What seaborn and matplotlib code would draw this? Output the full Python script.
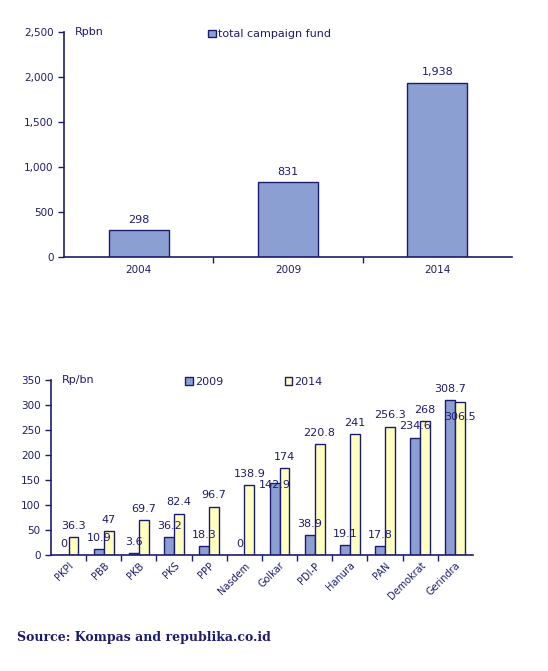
import matplotlib
matplotlib.use("Agg")
import matplotlib.pyplot as plt
import matplotlib.ticker as mticker
import numpy as np
import pandas as pd
import seaborn as sns

# data
years = ["2004", "2009", "2014"]
total_fund = [298, 831, 1938]

parties = ["PKPI", "PBB", "PKB", "PKS", "PPP", "Nasdem", "Golkar",
           "PDI-P", "Hanura", "PAN", "Demokrat", "Gerindra"]
fund_2009 = [0, 10.9, 3.6, 36.2, 18.3, 0, 142.9, 38.9, 19.1, 17.8, 234.6, 308.7]
fund_2014 = [36.3, 47, 69.7, 82.4, 96.7, 138.9, 174, 220.8, 241, 256.3, 268, 306.5]

navy = "#1c1c6e"
blue = "#8c9fd2"
yellow = "#ffffc0"

sns.set_style("ticks")
plt.rcParams["font.family"] = ["DejaVu Sans"]
plt.rcParams["text.color"] = navy
plt.rcParams["axes.edgecolor"] = navy
plt.rcParams["xtick.color"] = navy
plt.rcParams["ytick.color"] = navy

fig = plt.figure(figsize=(5.48, 6.71), dpi=100)

# top chart
ax1 = fig.add_axes([0.117, 0.617, 0.817, 0.335])
sns.barplot(x=years, y=total_fund, color=blue, width=0.4, edgecolor=navy,
            linewidth=1, saturation=1, ax=ax1, label="total campaign fund")
ax1.set_xlim(-0.5, 2.5)
ax1.set_ylim(0, 2500)
ax1.yaxis.set_major_locator(mticker.MultipleLocator(500))
ax1.yaxis.set_major_formatter(mticker.StrMethodFormatter("{x:,.0f}"))
ax1.set_xticks(range(len(years)))
ax1.set_xticklabels(years)
ax1.tick_params(axis="x", which="major", length=0, labelsize=7.5, pad=6)
ax1.set_xticks([0.5, 1.5], minor=True)
ax1.tick_params(axis="x", which="minor", length=4, width=1, color=navy)
ax1.tick_params(axis="y", labelsize=7.5, length=4, width=1)
for c in ax1.containers:
    ax1.bar_label(c, labels=[f"{v:,.0f}" for v in total_fund], padding=4,
                  fontsize=8, color=navy)
sns.despine(ax=ax1)
ax1.spines["left"].set_linewidth(1.2)
ax1.spines["bottom"].set_linewidth(1.2)
ax1.set_xlabel("")
ax1.text(0.025, 1.0, "Rpbn", transform=ax1.transAxes, va="center", fontsize=8)
ax1.legend(loc="center left", bbox_to_anchor=(0.31, 0.99), frameon=False,
           handlelength=0.7, handleheight=0.7, handletextpad=0.2, fontsize=8,
           borderpad=0)
for h in ax1.get_legend().legend_handles:
    h.set_edgecolor(navy)

# bottom chart
df = pd.DataFrame({
    "party": parties * 2,
    "fund": fund_2009 + fund_2014,
    "year": ["2009"] * len(parties) + ["2014"] * len(parties),
})
ax2 = fig.add_axes([0.093, 0.173, 0.77, 0.261])
sns.barplot(data=df, x="party", y="fund", hue="year",
            palette={"2009": blue, "2014": yellow}, width=0.56,
            edgecolor=navy, linewidth=1, saturation=1, ax=ax2)
ax2.set_xlim(-0.5, len(parties) - 0.5)
ax2.set_ylim(0, 350)
ax2.yaxis.set_major_locator(mticker.MultipleLocator(50))
ax2.tick_params(axis="y", labelsize=7.5, length=4, width=1)
ax2.set_xticks(range(len(parties)))
ax2.set_xticklabels(parties, rotation=45, ha="right", rotation_mode="anchor")
ax2.tick_params(axis="x", which="major", length=0, labelsize=7, pad=4)
ax2.set_xticks(np.arange(0.5, len(parties) - 0.5), minor=True)
ax2.tick_params(axis="x", which="minor", length=4, width=1, color=navy)
label_sets = []
for c, vals in zip(ax2.containers, [fund_2009, fund_2014]):
    label_sets.append(ax2.bar_label(c, labels=[f"{v:g}" for v in vals],
                                    padding=4.5, fontsize=8, color=navy))
# as in the source: Golkar 2009 sits on its bar top, Gerindra 2014 inside
gol = parties.index("Golkar")
ger = parties.index("Gerindra")
label_sets[0][gol].xyann = (0, -5)
label_sets[1][ger].xyann = (0, -15)
sns.despine(ax=ax2)
ax2.spines["left"].set_linewidth(1.2)
ax2.spines["bottom"].set_linewidth(1.2)
ax2.set_xlabel("")
ax2.set_ylabel("")
ax2.text(0.025, 1.0, "Rp/bn", transform=ax2.transAxes, va="center", fontsize=8)
ax2.legend(loc="center left", bbox_to_anchor=(0.305, 0.99), ncol=2,
           frameon=False, handlelength=0.7, handleheight=0.7,
           handletextpad=0.2, columnspacing=5.5, fontsize=8, borderpad=0)

fig.text(0.031, 1 - 637 / 671, "Source: Kompas and republika.co.id",
         family=["DejaVu Serif"], fontweight="bold", fontsize=9, color=navy,
         va="center")

fig.savefig("out.png", dpi=100)
